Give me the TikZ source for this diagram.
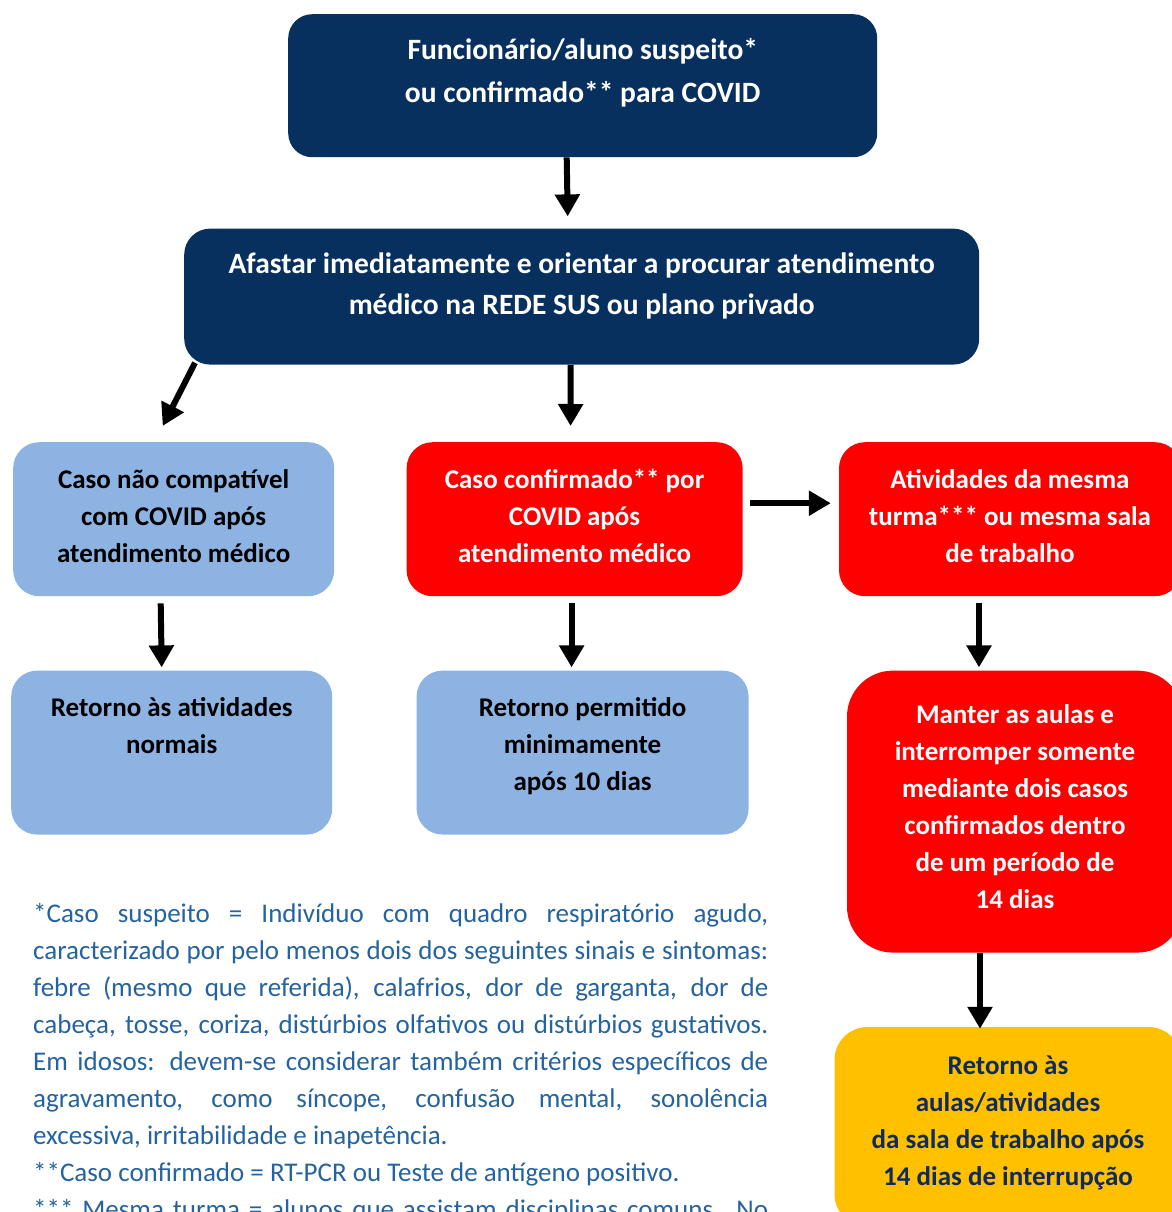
\documentclass[tikz,border=0pt]{standalone}
\usepackage{fontspec}
\setmainfont{Carlito}
\usetikzlibrary{arrows.meta, positioning}

\definecolor{navy}{HTML}{08305F}
\definecolor{lightblue}{HTML}{8DB3E2}
\definecolor{alertred}{HTML}{FF0000}
\definecolor{gold}{HTML}{FFC000}
\definecolor{darknavy}{HTML}{0F2A5C}
\definecolor{noteblue}{HTML}{24639F}
\setlength{\parindent}{0pt}

% box content: width, height, lines (text kept at the top)
\newcommand{\boxtext}[4][20pt]{\parbox[c][#3][t]{#2}{\centering\vspace*{#1}\strut #4}}

\begin{document}
\begin{tikzpicture}[x=1pt, y=1pt,
  flowbox/.style={inner sep=0pt, rounded corners=26pt, font=\fontsize{27}{37}\selectfont\bfseries},
  navybox/.style={flowbox, fill=navy, text=white, font=\fontsize{29.5}{37}\selectfont\bfseries},
  bluebox/.style={flowbox, fill=lightblue, text=black},
  redbox/.style={flowbox, fill=alertred, text=white},
  yellowbox/.style={flowbox, fill=gold, text=darknavy},
  note/.style={inner sep=0pt, text width=735pt, align=justify, text=noteblue, font=\fontsize{27}{37}\selectfont},
  arrow/.style={-{Triangle[width=24pt,length=22pt]}, line width=6pt}
]
\useasboundingbox (0,0) rectangle (1171,-1212);

\node[navybox, rounded corners=24pt, anchor=north west] (suspeito) at (288,-14)
  {\boxtext[19pt]{589pt}{143pt}{Funcionário/aluno suspeito*\\[6pt]ou confirmado** para COVID}};
\node[navybox, below=71pt of suspeito, xshift=-1pt] (afastar)
  {\boxtext[19pt]{795pt}{136pt}{Afastar imediatamente e orientar a procurar atendimento\\[4pt]médico na REDE SUS ou plano privado}};

\node[bluebox, anchor=north west] (naocompat) at (13,-442)
  {\boxtext{321pt}{154pt}{Caso não compatível\\com COVID após\\atendimento médico}};
\node[redbox, right=72pt of naocompat] (confirmado)
  {\boxtext{336pt}{154pt}{Caso confirmado** por\\COVID após\\atendimento médico}};
\node[redbox, right=96pt of confirmado] (atividades)
  {\boxtext{342pt}{154pt}{Atividades da mesma\\turma*** ou mesma sala\\de trabalho}};

\node[bluebox, below=74pt of naocompat, xshift=-2pt] (retnormal)
  {\boxtext{321pt}{164pt}{Retorno às atividades\\normais}};
\node[bluebox, below=74pt of confirmado, xshift=8pt] (retpermit)
  {\boxtext{332pt}{164pt}{Retorno permitido\\minimamente\\após 10 dias}};
\node[redbox, rounded corners=46pt, below=74pt of atividades, xshift=5pt] (manter)
  {\boxtext[27pt]{336pt}{282pt}{Manter as aulas e\\interromper somente\\mediante dois casos\\confirmados dentro\\de um período de\\14 dias}};
\node[yellowbox, rounded corners=33pt, below=74pt of manter, xshift=-7pt] (retaulas)
  {\boxtext[22pt]{347pt}{200pt}{Retorno às\\aulas/atividades\\da sala de trabalho após\\14 dias de interrupção}};

\node[note, anchor=north west] (nota) at (33,-896)
  {\strut*Caso suspeito = Indivíduo com quadro respiratório agudo,\linebreak
  caracterizado por pelo menos dois dos seguintes sinais e sintomas:\linebreak
  febre (mesmo que referida), calafrios, dor de garganta, dor de\linebreak
  cabeça, tosse, coriza, distúrbios olfativos ou distúrbios gustativos.\linebreak
  Em idosos: devem-se considerar também critérios específicos de\linebreak
  agravamento, como síncope, confusão mental, sonolência\linebreak
  excessiva, irritabilidade e inapetência.\par
  **Caso confirmado = RT-PCR ou Teste de antígeno positivo.\par
  *** Mesma turma = alunos que assistam disciplinas comuns. No\linebreak};

\draw[arrow] ([xshift=-16pt]suspeito.south) -- ([xshift=-14pt,yshift=12pt]afastar.north);
\draw[arrow] ([xshift=11pt,yshift=2pt]afastar.south west) -- ([xshift=-11pt,yshift=16pt]naocompat.north);
\draw[arrow] ([xshift=-11pt]afastar.south) -- ([xshift=-4pt,yshift=16pt]confirmado.north);
\draw[arrow] ([xshift=7pt,yshift=16pt]confirmado.east) -- ([xshift=-8pt,yshift=16pt]atividades.west);
\draw[arrow] ([xshift=-13pt,yshift=-7pt]naocompat.south) -- ([xshift=-10pt,yshift=3pt]retnormal.north);
\draw[arrow] ([xshift=-3pt,yshift=-7pt]confirmado.south) -- ([xshift=-11pt,yshift=3pt]retpermit.north);
\draw[arrow] ([xshift=-31pt,yshift=-7pt]atividades.south) -- ([xshift=-36pt,yshift=3pt]manter.north);
\draw[arrow] ([xshift=-35pt]manter.south) -- ([xshift=-28pt,yshift=-2pt]retaulas.north);
\end{tikzpicture}
\end{document}
